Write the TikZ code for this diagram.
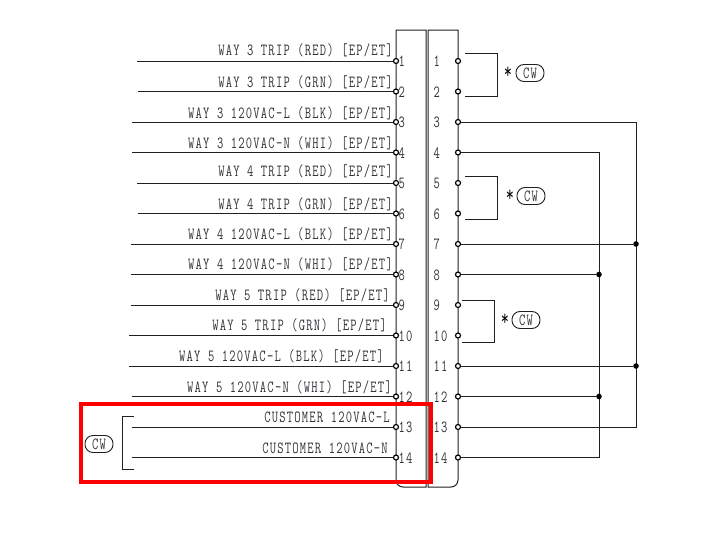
\documentclass[tikz,border=0pt]{standalone}
\usepackage{fontspec}
\newfontfamily\wirefont[FakeStretch=0.72,LetterSpace=7.2]{Latin Modern Mono}
\usetikzlibrary{positioning}
\definecolor{inkgrey}{HTML}{202020}
\definecolor{textgrey}{HTML}{33333A}
\tikzset{
	term/.style={circle,draw=black,line width=1.2pt,fill=white,inner sep=0pt,minimum size=5pt},
	dot/.style={circle,fill=black,inner sep=0pt,minimum size=5.6pt},
	wire/.style={draw=inkgrey,line width=1pt},
	wiretext/.style={anchor=base east,inner sep=0pt,text=textgrey,font=\wirefont\fontsize{17}{17}\selectfont},
	numtext/.style={anchor=west,inner sep=0pt,text=textgrey,font=\wirefont\fontsize{17}{17}\selectfont},
	cwtag/.style={draw=inkgrey,line width=0.9pt,rounded corners=8pt,minimum width=28pt,minimum height=17pt,inner sep=0pt,text=textgrey,font=\wirefont\fontsize{17}{17}\selectfont},
	startext/.style={inner sep=0pt,text=black,font=\wirefont\fontsize{22}{22}\selectfont}
}
\begin{document}
\begin{tikzpicture}[x=1pt,y=-1pt,node distance=30.5pt]
	\useasboundingbox (0,0) rectangle (715,538);
	\fill[white] (0,0) rectangle (715,538);

	% terminal block
	\draw[wire] (426,487) -- (403,487) arc (90:180:7) -- (396,30) -- (426,30) -- cycle;
	\draw[wire] (428,487) -- (451,487) arc (90:0:7) -- (458,30) -- (428,30) -- cycle;

	% left wires
	\coordinate(ls1) at (137,61);
	\coordinate(ls2) at (138,91.5);
	\coordinate(ls3) at (132,122);
	\coordinate(ls4) at (132,152.5);
	\coordinate(ls5) at (137,183);
	\coordinate(ls6) at (138,213.5);
	\coordinate(ls7) at (131,244);
	\coordinate(ls8) at (131,274.5);
	\coordinate(ls9) at (131,305);
	\coordinate(ls10) at (129,335.5);
	\coordinate(ls11) at (129,366);
	\coordinate(ls12) at (132,396.5);
	\coordinate(ls13) at (132,427);
	\coordinate(ls14) at (132,457.5);

	\draw[wire] (ls1) -- (396,61) coordinate(lt1);
	\draw[wire] (ls2) -- (396,91.5) coordinate(lt2);
	\draw[wire] (ls3) -- (396,122) coordinate(lt3);
	\draw[wire] (ls4) -- (396,152.5) coordinate(lt4);
	\draw[wire] (ls5) -- (396,183) coordinate(lt5);
	\draw[wire] (ls6) -- (396,213.5) coordinate(lt6);
	\draw[wire] (ls7) -- (396,244) coordinate(lt7);
	\draw[wire] (ls8) -- (396,274.5) coordinate(lt8);
	\draw[wire] (ls9) -- (396,305) coordinate(lt9);
	\draw[wire] (ls10) -- (396,335.5) coordinate(lt10);
	\draw[wire] (ls11) -- (396,366) coordinate(lt11);
	\draw[wire] (ls12) -- (396,396.5) coordinate(lt12);
	\draw[wire] (ls13) -- (396,427) coordinate(lt13);
	\draw[wire] (ls14) -- (396,457.5) coordinate(lt14);

	% left terminals
	\node(l1) [term] at (lt1) {};
	\node(l2) [term,below of=l1] {};
	\node(l3) [term,below of=l2] {};
	\node(l4) [term,below of=l3] {};
	\node(l5) [term,below of=l4] {};
	\node(l6) [term,below of=l5] {};
	\node(l7) [term,below of=l6] {};
	\node(l8) [term,below of=l7] {};
	\node(l9) [term,below of=l8] {};
	\node(l10) [term,below of=l9] {};
	\node(l11) [term,below of=l10] {};
	\node(l12) [term,below of=l11] {};
	\node(l13) [term,below of=l12] {};
	\node(l14) [term,below of=l13] {};

	% right terminals
	\node(r1) [term] at (458,61) {};
	\node(r2) [term,below of=r1] {};
	\node(r3) [term,below of=r2] {};
	\node(r4) [term,below of=r3] {};
	\node(r5) [term,below of=r4] {};
	\node(r6) [term,below of=r5] {};
	\node(r7) [term,below of=r6] {};
	\node(r8) [term,below of=r7] {};
	\node(r9) [term,below of=r8] {};
	\node(r10) [term,below of=r9] {};
	\node(r11) [term,below of=r10] {};
	\node(r12) [term,below of=r11] {};
	\node(r13) [term,below of=r12] {};
	\node(r14) [term,below of=r13] {};

	% wire labels
	\node(lab1) [wiretext] at (393,55) {WAY 3 TRIP (RED) [EP/ET]};
	\node(lab2) [wiretext] at (393,87) {WAY 3 TRIP (GRN) [EP/ET]};
	\node(lab3) [wiretext] at (393,118) {WAY 3 120VAC-L (BLK) [EP/ET]};
	\node(lab4) [wiretext] at (393,148) {WAY 3 120VAC-N (WHI) [EP/ET]};
	\node(lab5) [wiretext] at (393,176) {WAY 4 TRIP (RED) [EP/ET]};
	\node(lab6) [wiretext] at (393,209) {WAY 4 TRIP (GRN) [EP/ET]};
	\node(lab7) [wiretext] at (393,239) {WAY 4 120VAC-L (BLK) [EP/ET]};
	\node(lab8) [wiretext] at (393,269) {WAY 4 120VAC-N (WHI) [EP/ET]};
	\node(lab9) [wiretext] at (390,300) {WAY 5 TRIP (RED) [EP/ET]};
	\node(lab10) [wiretext] at (387,330) {WAY 5 TRIP (GRN) [EP/ET]};
	\node(lab11) [wiretext] at (384,361) {WAY 5 120VAC-L (BLK) [EP/ET]};
	\node(lab12) [wiretext] at (392,392) {WAY 5 120VAC-N (WHI) [EP/ET]};
	\node(lab13) [wiretext] at (390,422) {CUSTOMER 120VAC-L};
	\node(lab14) [wiretext] at (388,453) {CUSTOMER 120VAC-N};

	% numbers
	\node(ln1) [numtext] at (398.5,61.5) {1};
	\node(ln2) [numtext] at (398.5,92) {2};
	\node(ln3) [numtext] at (398.5,122.5) {3};
	\node(ln4) [numtext] at (398.5,153) {4};
	\node(ln5) [numtext] at (398.5,183.5) {5};
	\node(ln6) [numtext] at (398.5,214) {6};
	\node(ln7) [numtext] at (398.5,244.5) {7};
	\node(ln8) [numtext] at (398.5,275) {8};
	\node(ln9) [numtext] at (398.5,305.5) {9};
	\node(ln10) [numtext] at (398.5,336) {10};
	\node(ln11) [numtext] at (398.5,366.5) {11};
	\node(ln12) [numtext] at (398.5,397) {12};
	\node(ln13) [numtext] at (398.5,427.5) {13};
	\node(ln14) [numtext] at (398.5,458) {14};
	\node(rn1) [numtext] at (433.5,61.5) {1};
	\node(rn2) [numtext] at (433.5,92) {2};
	\node(rn3) [numtext] at (433.5,122.5) {3};
	\node(rn4) [numtext] at (433.5,153) {4};
	\node(rn5) [numtext] at (433.5,183.5) {5};
	\node(rn6) [numtext] at (433.5,214) {6};
	\node(rn7) [numtext] at (433.5,244.5) {7};
	\node(rn8) [numtext] at (433.5,275) {8};
	\node(rn9) [numtext] at (433.5,305.5) {9};
	\node(rn10) [numtext] at (433.5,336) {10};
	\node(rn11) [numtext] at (433.5,366.5) {11};
	\node(rn12) [numtext] at (433.5,397) {12};
	\node(rn13) [numtext] at (433.5,427.5) {13};
	\node(rn14) [numtext] at (433.5,458) {14};

	% links on the right
	\coordinate(bus3) at (636,122);
	\coordinate(bus4) at (599,152.5);
	\draw[wire] (r3) -- (bus3) |- (r13);
	\draw[wire] (r4) -- (bus4) |- (r14);
	\node(d7) [dot] at (bus3 |- r7) {};
	\node(d11) [dot] at (bus3 |- r11) {};
	\node(d8) [dot] at (bus4 |- r8) {};
	\node(d12) [dot] at (bus4 |- r12) {};
	\draw[wire] (r7) -- (d7);
	\draw[wire] (r11) -- (d11);
	\draw[wire] (r8) -- (d8);
	\draw[wire] (r12) -- (d12);

	% jumpers
	\coordinate(j1a) at (465,53.5);
	\coordinate(j1b) at (465,96);
	\coordinate(j5a) at (465,176);
	\coordinate(j5b) at (465,219);
	\coordinate(j9a) at (462,300);
	\coordinate(j9b) at (462,342);
	\draw[wire] (j1a) -- (497,53.5) -- (497,96) -- (j1b);
	\draw[wire] (j5a) -- (497,176) -- (497,219) -- (j5b);
	\draw[wire] (j9a) -- (494,300) -- (494,342) -- (j9b);

	% tags
	\node(star1) [startext] at (508,73) {*};
	\node(cw1) [cwtag] at (530,73) {CW};
	\node(star2) [startext] at (510,196) {*};
	\node(cw2) [cwtag] at (531,196) {CW};
	\node(star3) [startext] at (505,320) {*};
	\node(cw3) [cwtag] at (526,320) {CW};
	\node(cw4) [cwtag] at (99,444) {CW};
	\coordinate(br1) at (134,416.5);
	\coordinate(br2) at (134,469);
	\draw[wire] (br1) -- (122.5,416.5) -- (122.5,469) -- (br2);

	% highlight
	\draw[red,line width=4pt] (81,403.5) rectangle (431,482);
\end{tikzpicture}
\end{document}
